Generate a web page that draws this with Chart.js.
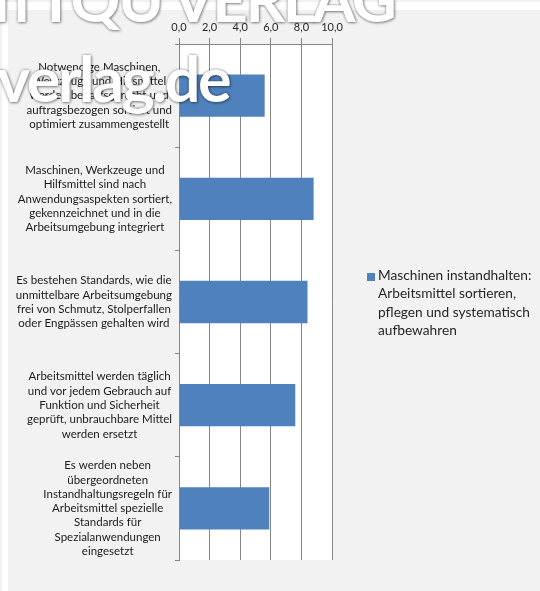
<!DOCTYPE html>
<html>
<head>
<meta charset="utf-8">
<script src="https://cdn.jsdelivr.net/npm/chart.js@4/dist/chart.umd.min.js"></script>
<style>
  html, body { margin: 0; padding: 0; }
  body { width: 540px; height: 591px; position: relative; overflow: hidden; background: #f2f2f2; font-family: Lato, sans-serif; }
  #rahmen { position: absolute; left: 2px; top: 2px; width: 538px; height: 589px; background: #fff; }
  #panel { position: absolute; left: 8px; top: 10px; width: 532px; height: 581px; background: #f2f2f2; }
  #legende { position: absolute; left: 367px; top: 266px; font-size: 13.7px; line-height: 18.3px; color: #262626; }
  #legende .box { position: absolute; left: 0; top: 7px; width: 8px; height: 8px; }
  #legende .text { margin-left: 11px; white-space: nowrap; }
  .wz { position: absolute; color: #fff; font-weight: bold; white-space: nowrap; line-height: 1.2;
        text-shadow: 0 0 3px rgba(0,0,0,0.45), 1px 1px 3px rgba(0,0,0,0.35); }
  #wz1 { left: -6px; top: -39px; font-size: 62px; letter-spacing: -2.5px; }
  #wz2 { left: -3px; top: 40px; font-size: 63px; letter-spacing: -2.5px; }
</style>
</head>
<body>
<div id="rahmen"></div>
<div id="panel"><canvas id="diagramm" width="532" height="581"></canvas></div>
<div id="legende"></div>
<div class="wz" id="wz1">n TQU VERLAG</div>
<div class="wz" id="wz2">verlag.de</div>
<script>
// Kategorien (Zeilen wie im Original umbrochen)
const kategorien = [
    ['Notwendige Maschinen,', 'Werkzeuge und Hilfsmittel', 'werden bedarfsgerecht und', 'auftragsbezogen sortiert und', 'optimiert zusammengestellt'],
    ['Maschinen, Werkzeuge und', 'Hilfsmittel sind nach', 'Anwendungsaspekten sortiert,', 'gekennzeichnet und in die', 'Arbeitsumgebung integriert'],
    ['Es bestehen Standards, wie die', 'unmittelbare Arbeitsumgebung', 'frei von Schmutz, Stolperfallen', 'oder Engpässen gehalten wird'],
    ['Arbeitsmittel werden täglich', 'und vor jedem Gebrauch auf', 'Funktion und Sicherheit', 'geprüft, unbrauchbare Mittel', 'werden ersetzt'],
    ['Es werden neben', 'übergeordneten', 'Instandhaltungsregeln für', 'Arbeitsmittel spezielle', 'Standards für', 'Spezialanwendungen', 'eingesetzt']
];
const werte = [5.6, 8.8, 8.4, 7.6, 5.9];
const serienName = ['Maschinen instandhalten:', 'Arbeitsmittel sortieren,', 'pflegen und systematisch', 'aufbewahren'];
const xMin = 0, xMax = 10, xSchritt = 2;

const farbe = '#4f81bd';
const gitter = '#868686';

// weisser Hintergrund der Zeichenflaeche
const plotHintergrund = {
    id: 'plotHintergrund',
    beforeDraw(chart) {
        const a = chart.chartArea, ctx = chart.ctx;
        ctx.save();
        ctx.fillStyle = '#fff';
        ctx.fillRect(a.left, a.top, a.right - a.left, a.bottom - a.top);
        ctx.restore();
    }
};

// Achsenbeschriftung wie in Excel: Block rechtsbuendig, Zeilen zentriert
const kategorieLabels = {
    id: 'kategorieLabels',
    afterDraw(chart) {
        const ctx = chart.ctx, y = chart.scales.y;
        ctx.save();
        ctx.font = '11.5px Lato';
        ctx.fillStyle = '#1a1a1a';
        ctx.textAlign = 'center';
        ctx.textBaseline = 'middle';
        const lh = 14.3, rechts = y.right - 7;
        kategorien.forEach((zeilen, i) => {
            const w = Math.max(...zeilen.map(z => ctx.measureText(z).width));
            const cx = rechts - w / 2;
            const cy = y.getPixelForTick(i);
            zeilen.forEach((z, j) => ctx.fillText(z, cx, cy + (j - (zeilen.length - 1) / 2) * lh));
        });
        ctx.restore();
    }
};

const ctx = document.getElementById('diagramm').getContext('2d');
new Chart(ctx, {
    type: 'bar',
    data: {
        labels: kategorien.map(k => k.join(' ')),
        datasets: [{
            label: serienName.join(' '),
            data: werte,
            backgroundColor: farbe,
            borderWidth: 0,
            barPercentage: 0.41,
            categoryPercentage: 1.0
        }]
    },
    options: {
        indexAxis: 'y',
        responsive: false,
        animation: false,
        layout: { padding: { left: 0, right: 208, top: 0, bottom: 31 } },
        plugins: {
            legend: { display: false },
            tooltip: { enabled: false }
        },
        scales: {
            x: {
                position: 'top',
                min: xMin,
                max: xMax,
                afterFit: s => { s.height = 34; },
                grid: { color: gitter, tickLength: 6, lineWidth: 1 },
                border: { color: gitter },
                ticks: {
                    stepSize: xSchritt,
                    padding: 4,
                    color: '#262626',
                    font: { family: 'Lato', size: 11 },
                    callback: v => v.toFixed(1).replace('.', ',')
                }
            },
            y: {
                afterFit: s => { s.width = 171; },
                grid: { drawOnChartArea: false, color: gitter, tickLength: 4 },
                border: { color: gitter },
                ticks: { display: false }
            }
        }
    },
    plugins: [plotHintergrund, kategorieLabels]
});

// Legende
const leg = document.getElementById('legende');
leg.innerHTML = '<div class="box" style="background:' + farbe + '"></div><div class="text">' +
    serienName.join('<br>') + '</div>';
</script>
</body>
</html>
